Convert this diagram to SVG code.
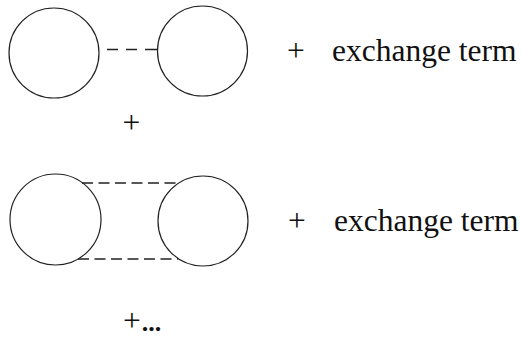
<svg xmlns="http://www.w3.org/2000/svg" width="521" height="338" viewBox="0 0 521 338">
<style>
.c{fill:none;stroke:#222;stroke-width:1.2}
.d{stroke:#222;stroke-width:1.4;fill:none}
text{font-family:'Liberation Serif','Times New Roman','DejaVu Serif',serif;font-size:31.5px;fill:#111}
</style>
<rect width="521" height="338" fill="#fff"/>
<g id="node-a1"><circle class="c" cx="54" cy="53" r="45"/></g>
<g id="node-b1"><circle class="c" cx="202.5" cy="51" r="45"/></g>
<g id="node-a2"><circle class="c" cx="55.5" cy="219.5" r="45.5"/></g>
<g id="node-b2"><circle class="c" cx="203" cy="221" r="45"/></g>
<g id="connectors">
<line class="d" x1="99" y1="49.5" x2="157.5" y2="49.5" stroke-dasharray="0 8 11 8 11 8 11"/>
<line class="d" x1="82" y1="183" x2="180" y2="183" stroke-dasharray="11 5.5"/>
<line class="d" x1="78" y1="259" x2="178" y2="259" stroke-dasharray="11 5.5"/>
</g>
<g id="labels" font-family="'Liberation Serif', 'Times New Roman', serif">
<text x="287" y="61">+</text>
<text x="332" y="61">exchange term</text>
<text x="131.5" y="132.5" text-anchor="middle">+</text>
<text x="288" y="231">+</text>
<text x="334" y="231">exchange term</text>
<text x="123" y="331">+<tspan font-weight="bold" font-size="26px" dx="1">...</tspan></text>
</g>
</svg>
